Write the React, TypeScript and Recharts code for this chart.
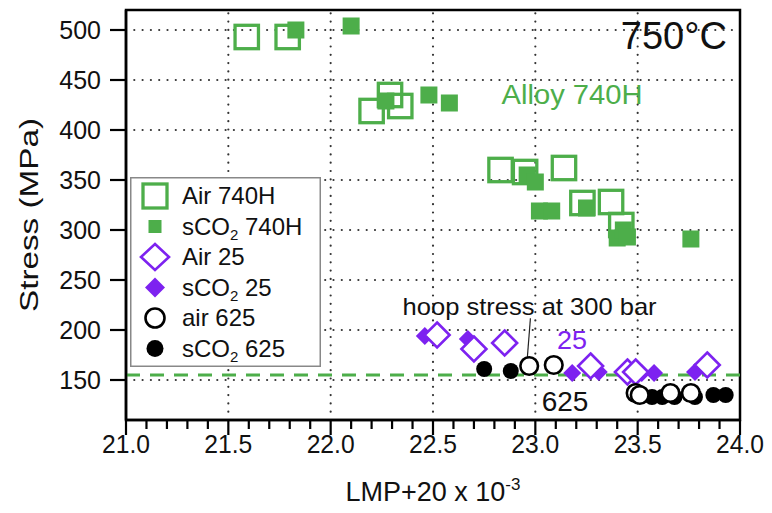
import {
  ScatterChart,
  Scatter,
  XAxis,
  YAxis,
  ReferenceLine,
  ReferenceArea,
  ReferenceDot,
  Legend,
} from 'recharts';

const GREEN = '#4dae4a';
const PURPLE = '#7d22f0';
const FONT = '"Liberation Sans", Arial, Helvetica, sans-serif';

// LMP+20 x 10^-3 vs stress (MPa)
const air740H: [number, number][] = [
  [21.59, 493], [21.79, 493],
  [22.2, 419], [22.29, 435], [22.34, 424],
  [22.83, 360], [22.95, 358], [23.14, 362],
  [23.23, 327], [23.37, 328], [23.42, 305],
];
const sco2740H: [number, number][] = [
  [21.83, 500], [22.1, 504],
  [22.27, 429], [22.48, 435], [22.58, 427],
  [22.96, 355], [23.0, 348], [23.02, 319], [23.08, 319],
  [23.25, 322], [23.4, 292], [23.43, 300], [23.45, 293], [23.76, 291],
];
const air25: [number, number][] = [
  [22.52, 195], [22.7, 181], [22.85, 187],
  [23.27, 164], [23.45, 158], [23.49, 158], [23.84, 165],
];
const sco225: [number, number][] = [
  [22.46, 194], [22.67, 191],
  [23.18, 157], [23.31, 158], [23.52, 157], [23.58, 157], [23.78, 158],
];
const air625: [number, number][] = [
  [22.97, 164], [23.09, 165],
  [23.49, 137], [23.51, 135], [23.66, 137], [23.76, 137],
];
const sco2625: [number, number][] = [
  [22.75, 161], [22.88, 159],
  [23.57, 133], [23.62, 133], [23.68, 133], [23.78, 133], [23.87, 135], [23.93, 135],
];

const hoopStress = 155;
const xMajorTicks = [21.0, 21.5, 22.0, 22.5, 23.0, 23.5, 24.0];
const xMinorTicks = Array.from({ length: 31 }, (_, i) => +(21 + i * 0.1).toFixed(1));
const yTicks = [150, 200, 250, 300, 350, 400, 450, 500];
const xGrid = [21.5, 22.0, 22.5, 23.0, 23.5];

const toPts = (a: [number, number][]) => a.map(([x, y]) => ({ x, y }));

// marker shapes
const OpenSquare = (p: any) => (
  <rect x={p.cx - 11.7} y={p.cy - 11.7} width={23.4} height={23.4} fill="none" stroke={GREEN} strokeWidth={3.3} />
);
const FilledSquare = (p: any) => (
  <rect x={p.cx - 8.5} y={p.cy - 8.5} width={17} height={17} fill={GREEN} />
);
const OpenDiamond = (p: any) => {
  const r = 12.5;
  return (
    <path
      d={`M${p.cx},${p.cy - r}L${p.cx + r},${p.cy}L${p.cx},${p.cy + r}L${p.cx - r},${p.cy}Z`}
      fill="#fff"
      stroke={PURPLE}
      strokeWidth={2.6}
    />
  );
};
const FilledDiamond = (p: any) => {
  const r = 9;
  return (
    <path d={`M${p.cx},${p.cy - r}L${p.cx + r},${p.cy}L${p.cx},${p.cy + r}L${p.cx - r},${p.cy}Z`} fill={PURPLE} />
  );
};
const OpenCircle = (p: any) => <circle cx={p.cx} cy={p.cy} r={8.8} fill="#fff" stroke="#000" strokeWidth={2.6} />;
const FilledCircle = (p: any) => <circle cx={p.cx} cy={p.cy} r={8} fill="#000" />;

function XTick({ x, y, payload }: any) {
  const v = payload.value;
  const major = xMajorTicks.some((m) => Math.abs(m - v) < 1e-6);
  return (
    <g>
      <line x1={x} x2={x} y1={y} y2={y + (major ? 15 : 9)} stroke="#000" strokeWidth={2.2} />
      {major && (
        <text x={x} y={y + 33} textAnchor="middle" fontSize={26} fontFamily={FONT} fill="#111" textLength={48} lengthAdjust="spacingAndGlyphs">
          {v.toFixed(1)}
        </text>
      )}
    </g>
  );
}

function YTick({ x, y, payload }: any) {
  return (
    <g>
      <line x1={x - 16} x2={x} y1={y} y2={y} stroke="#000" strokeWidth={2.2} />
      <text x={x - 25} y={y + 9} textAnchor="end" fontSize={25} fontFamily={FONT} fill="#111">
        {payload.value}
      </text>
    </g>
  );
}

const Sub = ({ children }: { children: string }) => (
  <>
    <tspan>sCO</tspan>
    <tspan dy={5} fontSize={15}>2</tspan>
    <tspan dy={-5}>{children}</tspan>
  </>
);

function LegendBox() {
  const rows = [19, 49.5, 80, 110.5, 141, 171.5];
  const sx = 25;
  return (
    <svg width={191} height={190} style={{ display: 'block' }}>
      <rect x={0.75} y={0.75} width={189.5} height={188.5} fill="#fff" stroke="#888" strokeWidth={1.5} />
      <rect x={sx - 12} y={rows[0] - 12} width={24} height={24} fill="none" stroke={GREEN} strokeWidth={3.3} />
      <rect x={sx - 6.5} y={rows[1] - 6.5} width={13} height={13} fill={GREEN} />
      <path d={`M${sx},${rows[2] - 13}L${sx + 14},${rows[2]}L${sx},${rows[2] + 13}L${sx - 14},${rows[2]}Z`} fill="#fff" stroke={PURPLE} strokeWidth={2.6} />
      <path d={`M${sx},${rows[3] - 10}L${sx + 10},${rows[3]}L${sx},${rows[3] + 10}L${sx - 10},${rows[3]}Z`} fill={PURPLE} />
      <circle cx={sx} cy={rows[4]} r={9.5} fill="#fff" stroke="#000" strokeWidth={2.6} />
      <circle cx={sx} cy={rows[5]} r={8.5} fill="#000" />
      <g fontFamily={FONT} fontSize={24} fill="#111">
        <text x={52} y={rows[0] + 8}>Air 740H</text>
        <text x={52} y={rows[1] + 8}><Sub> 740H</Sub></text>
        <text x={52} y={rows[2] + 8}>Air 25</text>
        <text x={52} y={rows[3] + 8}><Sub> 25</Sub></text>
        <text x={52} y={rows[4] + 8}>air 625</text>
        <text x={52} y={rows[5] + 8}><Sub> 625</Sub></text>
      </g>
    </svg>
  );
}

const textShape = (content: React.ReactNode, opts: any) => (p: any) => (
  <text x={p.cx} y={p.cy} fontFamily={FONT} {...opts}>
    {content}
  </text>
);

const gridStyle = { stroke: '#333', strokeWidth: 2.2, strokeDasharray: '0 8.3', strokeLinecap: 'round' as const };

export default function App() {
  return (
    <div style={{ position: 'absolute', left: 0, top: 0, width: 772, height: 513, background: '#fff' }}>
      <ScatterChart width={772} height={513} margin={{ top: 10, right: 32, bottom: 33, left: 66 }}>
        <XAxis
          type="number"
          dataKey="x"
          domain={[21, 24]}
          ticks={xMinorTicks}
          interval={0}
          allowDataOverflow
          height={60}
          tickSize={0}
          tickMargin={0}
          tickLine={false}
          axisLine={{ stroke: '#000', strokeWidth: 2.5 }}
          tick={<XTick />}
        />
        <YAxis
          type="number"
          dataKey="y"
          domain={[110, 520]}
          ticks={yTicks}
          interval={0}
          allowDataOverflow
          width={60}
          tickSize={0}
          tickMargin={0}
          tickLine={false}
          axisLine={{ stroke: '#000', strokeWidth: 2.5 }}
          tick={<YTick />}
        />
        {xGrid.map((v) => (
          <ReferenceLine key={'gx' + v} x={v} {...gridStyle} />
        ))}
        {yTicks.map((v) => (
          <ReferenceLine key={'gy' + v} y={v} {...gridStyle} />
        ))}
        <ReferenceLine y={hoopStress} stroke={GREEN} strokeWidth={3} strokeDasharray="14 10" />
        <ReferenceLine
          segment={[
            { x: 22.976, y: 211.7 },
            { x: 22.96, y: 170 },
          ]}
          stroke="#222"
          strokeWidth={1.2}
        />
        <Scatter name="Air 740H" data={toPts(air740H)} shape={OpenSquare} isAnimationActive={false} />
        <Scatter name="sCO2 740H" data={toPts(sco2740H)} shape={FilledSquare} isAnimationActive={false} />
        <Scatter name="sCO2 25" data={toPts(sco225)} shape={FilledDiamond} isAnimationActive={false} />
        <Scatter name="Air 25" data={toPts(air25)} shape={OpenDiamond} isAnimationActive={false} />
        <Scatter name="sCO2 625" data={toPts(sco2625)} shape={FilledCircle} isAnimationActive={false} />
        <Scatter name="air 625" data={toPts(air625)} shape={OpenCircle} isAnimationActive={false} />
        <ReferenceDot x={23.936} y={481.5} shape={textShape('750°C', { fontSize: 38, textAnchor: 'end', fill: '#111' })} />
        <ReferenceDot x={22.835} y={426} shape={textShape('Alloy 740H', { fontSize: 27, fill: GREEN, textLength: 141, lengthAdjust: 'spacingAndGlyphs' })} />
        <ReferenceDot x={22.972} y={215} shape={textShape('hoop stress at 300 bar', { fontSize: 24, textAnchor: 'middle', fill: '#111', textLength: 254, lengthAdjust: 'spacingAndGlyphs' })} />
        <ReferenceDot x={23.179} y={181} shape={textShape('25', { fontSize: 25, textAnchor: 'middle', fill: PURPLE, textLength: 30, lengthAdjust: 'spacingAndGlyphs' })} />
        <ReferenceDot x={23.145} y={119} shape={textShape('625', { fontSize: 28, textAnchor: 'middle', fill: '#111' })} />
        <ReferenceArea x1={21} x2={24} y1={110} y2={520} fill="none" stroke="#000" strokeWidth={2.5} />
        <Legend
          layout="vertical"
          align="center"
          verticalAlign="middle"
          content={<LegendBox />}
          wrapperStyle={{ position: 'absolute', left: 130, top: 177, width: 191, height: 190 }}
        />
        <text x={29} y={215} transform="rotate(-90 29 215)" textAnchor="middle" dominantBaseline="central" fontSize={26} fontFamily={FONT} fill="#111" textLength={194} lengthAdjust="spacingAndGlyphs">
          Stress (MPa)
        </text>
        <text x={433} y={501} textAnchor="middle" fontSize={27} fontFamily={FONT} fill="#111">
          LMP+20 x 10<tspan dy={-11} fontSize={17}>-3</tspan>
        </text>
      </ScatterChart>
    </div>
  );
}
